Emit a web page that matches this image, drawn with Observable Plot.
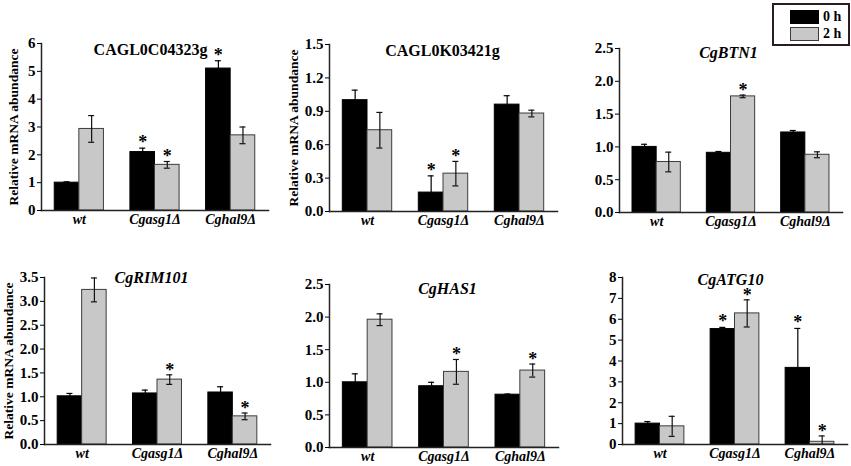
<!DOCTYPE html>
<html>
<head>
<meta charset="utf-8">
<script src="https://cdn.jsdelivr.net/npm/d3@7"></script>
<script src="https://cdn.jsdelivr.net/npm/@observablehq/plot@0.6"></script>
<style>
  body { margin: 0; background: #fff; }
  #fig { position: relative; width: 851px; height: 466px; overflow: hidden; background: #fff;
         font-family: "Liberation Serif", "Times New Roman", serif; }
  .panel { position: absolute; }
  .panel svg { overflow: visible; }
  #legend { position: absolute; left: 772px; top: 3px; width: 74px; height: 39px;
            border: 2px solid #2b1d1d; background: #fff; z-index: 5; }
  .sw { position: absolute; left: 16px; width: 29px; height: 14px; box-sizing: border-box; }
  .lt { position: absolute; left: 49px; font-weight: bold; font-size: 14px; line-height: 14px; color: #000; }
</style>
</head>
<body>
<div id="fig"></div>
<script>
// ---- categories / series / labels ----
const groups = ["wt", "Cgasg1Δ", "Cghal9Δ"];
const seriesNames = ["0 h", "2 h"];
const geneNames = ["CAGL0C04323g", "CAGL0K03421g", "CgBTN1", "CgRIM101", "CgHAS1", "CgATG10"];
const yLabel = "Relative mRNA abundance";

// ---- values (mean, error, significance) per gene ----
const c04323_0h = [1.00, 2.10, 5.10];
const c04323_0h_err = [0.03, 0.14, 0.28];
const c04323_0h_sig = [false, true, true];
const c04323_2h = [2.93, 1.64, 2.70];
const c04323_2h_err = [0.48, 0.12, 0.30];
const c04323_2h_sig = [false, true, false];

const k03421_0h = [1.00, 0.17, 0.96];
const k03421_0h_err = [0.09, 0.15, 0.08];
const k03421_0h_sig = [false, true, false];
const k03421_2h = [0.73, 0.34, 0.88];
const k03421_2h_err = [0.16, 0.11, 0.03];
const k03421_2h_sig = [false, true, false];

const btn1_0h = [1.00, 0.91, 1.22];
const btn1_0h_err = [0.04, 0.02, 0.03];
const btn1_0h_sig = [false, false, false];
const btn1_2h = [0.77, 1.77, 0.88];
const btn1_2h_err = [0.15, 0.02, 0.045];
const btn1_2h_sig = [false, true, false];

const rim101_0h = [1.01, 1.07, 1.09];
const rim101_0h_err = [0.06, 0.07, 0.12];
const rim101_0h_sig = [false, false, false];
const rim101_2h = [3.24, 1.36, 0.59];
const rim101_2h_err = [0.25, 0.10, 0.07];
const rim101_2h_sig = [false, true, true];

const has1_0h = [1.00, 0.94, 0.81];
const has1_0h_err = [0.13, 0.06, 0.01];
const has1_0h_sig = [false, false, false];
const has1_2h = [1.96, 1.16, 1.18];
const has1_2h_err = [0.09, 0.19, 0.10];
const has1_2h_sig = [false, true, true];

const atg10_0h = [1.00, 5.53, 3.67];
const atg10_0h_err = [0.10, 0.08, 1.89];
const atg10_0h_sig = [false, true, true];
const atg10_2h = [0.87, 6.28, 0.13];
const atg10_2h_err = [0.48, 0.65, 0.28];
const atg10_2h_sig = [false, true, true];

// ---- y tick values ----
const ticksC04323 = [0, 1, 2, 3, 4, 5, 6];
const ticksK03421 = [0, 0.3, 0.6, 0.9, 1.2, 1.5];
const ticksBTN1 = [0, 0.5, 1.0, 1.5, 2.0, 2.5];
const ticksRIM101 = [0, 0.5, 1.0, 1.5, 2.0, 2.5, 3.0, 3.5];
const ticksHAS1 = [0, 0.5, 1.0, 1.5, 2.0, 2.5];
const ticksATG10 = [0, 1, 2, 3, 4, 5, 6, 7, 8];

function rows(v0, e0, s0, v2, e2, s2) {
  const out = [];
  groups.forEach((g, i) => {
    out.push({group: g, series: seriesNames[0], value: v0[i], err: e0[i], sig: s0[i]});
    out.push({group: g, series: seriesNames[1], value: v2[i], err: e2[i], sig: s2[i]});
  });
  return out;
}

const fmtInt = d3.format("d");
const fmt1 = d3.format(".1f");

const panels = [
  {title: geneNames[0], italic: false, data: rows(c04323_0h, c04323_0h_err, c04323_0h_sig, c04323_2h, c04323_2h_err, c04323_2h_sig),
   ticks: ticksC04323, fmt: fmtInt, left: 0, top: 0, W: 280, H: 232, mL: 41, mT: 43, mB: 22, mR: 12, ylab: true, labOff: 28, tdx: -4.5, tdy: 6},
  {title: geneNames[1], italic: false, data: rows(k03421_0h, k03421_0h_err, k03421_0h_sig, k03421_2h, k03421_2h_err, k03421_2h_sig),
   ticks: ticksK03421, fmt: fmt1, left: 280, top: 0, W: 285, H: 232, mL: 49, mT: 44, mB: 21, mR: 8, ylab: true, labOff: 36, tdx: -1, tdy: 6},
  {title: geneNames[2], italic: true, data: rows(btn1_0h, btn1_0h_err, btn1_0h_sig, btn1_2h, btn1_2h_err, btn1_2h_sig),
   ticks: ticksBTN1, fmt: fmt1, left: 565, top: 0, W: 286, H: 232, mL: 54, mT: 48, mB: 20, mR: 9, ylab: false, labOff: 0, tdx: -2.5, tdy: 4},
  {title: geneNames[3], italic: true, data: rows(rim101_0h, rim101_0h_err, rim101_0h_sig, rim101_2h, rim101_2h_err, rim101_2h_sig),
   ticks: ticksRIM101, fmt: fmt1, left: 0, top: 240, W: 280, H: 226, mL: 44, mT: 37, mB: 22, mR: 10, ylab: true, labOff: 36, tdx: -6, tdy: 0},
  {title: geneNames[4], italic: true, data: rows(has1_0h, has1_0h_err, has1_0h_sig, has1_2h, has1_2h_err, has1_2h_sig),
   ticks: ticksHAS1, fmt: fmt1, left: 280, top: 240, W: 285, H: 226, mL: 49, mT: 44, mB: 19, mR: 7, ylab: false, labOff: 0, tdx: 3.5, tdy: 4},
  {title: geneNames[5], italic: true, data: rows(atg10_0h, atg10_0h_err, atg10_0h_sig, atg10_2h, atg10_2h_err, atg10_2h_sig),
   ticks: ticksATG10, fmt: fmtInt, left: 565, top: 240, W: 286, H: 226, mL: 57, mT: 37, mB: 22, mR: 4, ylab: false, labOff: 0, tdx: -4.5, tdy: 2}
];

const fig = document.getElementById("fig");
const FONT = "'Liberation Serif', 'Times New Roman', serif";

panels.forEach(cfg => {
  const plotW = cfg.W - cfg.mL - cfg.mR;
  const step = plotW / 3;          // paddingInner .35, paddingOuter .175 -> 3 steps
  const bw = step * 0.65;
  const half = bw / 2;
  const q = bw / 4;
  const cap = 3;
  const d0 = cfg.data.filter(d => d.series === seriesNames[0]);
  const d2 = cfg.data.filter(d => d.series === seriesNames[1]);
  const ymax = cfg.ticks[cfg.ticks.length - 1];

  const marks = [
    Plot.barY(d0, {x: "group", y: "value", fill: "#000", stroke: "#000", strokeWidth: 1, insetRight: half}),
    Plot.barY(d2, {x: "group", y: "value", fill: "#c8c8c8", stroke: "#3c3c3c", strokeWidth: 1, insetLeft: half}),
    Plot.ruleX(d0, {x: "group", y1: d => Math.max(0, d.value - d.err), y2: d => d.value + d.err, dx: -q, stroke: "#000", strokeWidth: 1.2}),
    Plot.ruleX(d2, {x: "group", y1: d => Math.max(0, d.value - d.err), y2: d => d.value + d.err, dx: q, stroke: "#111", strokeWidth: 1.2}),
    Plot.tickY(d0, {x: "group", y: d => d.value + d.err, insetLeft: q - cap, insetRight: 3 * q - cap, stroke: "#000", strokeWidth: 1.2}),
    Plot.tickY(d2, {x: "group", y: d => d.value + d.err, insetLeft: 3 * q - cap, insetRight: q - cap, stroke: "#111", strokeWidth: 1.2}),
    Plot.tickY(d2.filter(d => d.value - d.err > 0), {x: "group", y: d => d.value - d.err, insetLeft: 3 * q - cap, insetRight: q - cap, stroke: "#111", strokeWidth: 1.2}),
    Plot.text(d0.filter(d => d.sig), {x: "group", y: d => d.value + d.err, text: () => "*", dx: -q, dy: -6, fontSize: 18, fontWeight: "bold", fill: "#000"}),
    Plot.text(d2.filter(d => d.sig), {x: "group", y: d => d.value + d.err, text: () => "*", dx: q, dy: -5, fontSize: 18, fontWeight: "bold", fill: "#000"}),
    Plot.frame({anchor: "left", stroke: "#222", strokeWidth: 1.5}),
    Plot.frame({anchor: "bottom", stroke: "#222", strokeWidth: 1.5}),
    Plot.axisY({ticks: cfg.ticks, tickFormat: cfg.fmt, tickSize: 4, tickPadding: 2, label: null, fontSize: 15, fontWeight: "bold"}),
    Plot.axisX({tickSize: 0, tickPadding: 4, label: null, fontSize: 14, fontWeight: "bold", fontStyle: "italic"}),
    Plot.text([cfg.title], {frameAnchor: "top", lineAnchor: "middle", textAnchor: "middle", dx: cfg.tdx, dy: cfg.tdy, fontSize: 16, fontWeight: "bold",
                            fontStyle: cfg.italic ? "italic" : "normal", fill: "#000"})
  ];
  if (cfg.ylab) {
    marks.push(Plot.text([yLabel], {frameAnchor: "left", textAnchor: "middle", lineAnchor: "middle", rotate: -90, dx: -cfg.labOff,
                                    fontSize: 13.5, fontWeight: "bold", fill: "#000"}));
  }

  const chart = Plot.plot({
    width: cfg.W, height: cfg.H,
    marginLeft: cfg.mL, marginTop: cfg.mT, marginBottom: cfg.mB, marginRight: cfg.mR,
    style: {fontFamily: FONT, fontSize: "14px", fontWeight: "bold", color: "#000", background: "transparent", overflow: "visible"},
    x: {type: "band", domain: groups, paddingInner: 0.35, paddingOuter: 0.175, round: false},
    y: {domain: [0, ymax]},
    marks
  });
  const div = document.createElement("div");
  div.className = "panel";
  div.style.left = cfg.left + "px";
  div.style.top = cfg.top + "px";
  div.appendChild(chart);
  fig.appendChild(div);
});

// legend
const legend = document.createElement("div");
legend.id = "legend";
legend.innerHTML =
  `<div class="sw" style="top:5px;background:#000;border:1px solid #000"></div>` +
  `<div class="lt" style="top:5px">${seriesNames[0]}</div>` +
  `<div class="sw" style="top:22px;background:#c8c8c8;border:1px solid #3c3c3c"></div>` +
  `<div class="lt" style="top:22px">${seriesNames[1]}</div>`;
fig.appendChild(legend);
</script>
</body>
</html>
